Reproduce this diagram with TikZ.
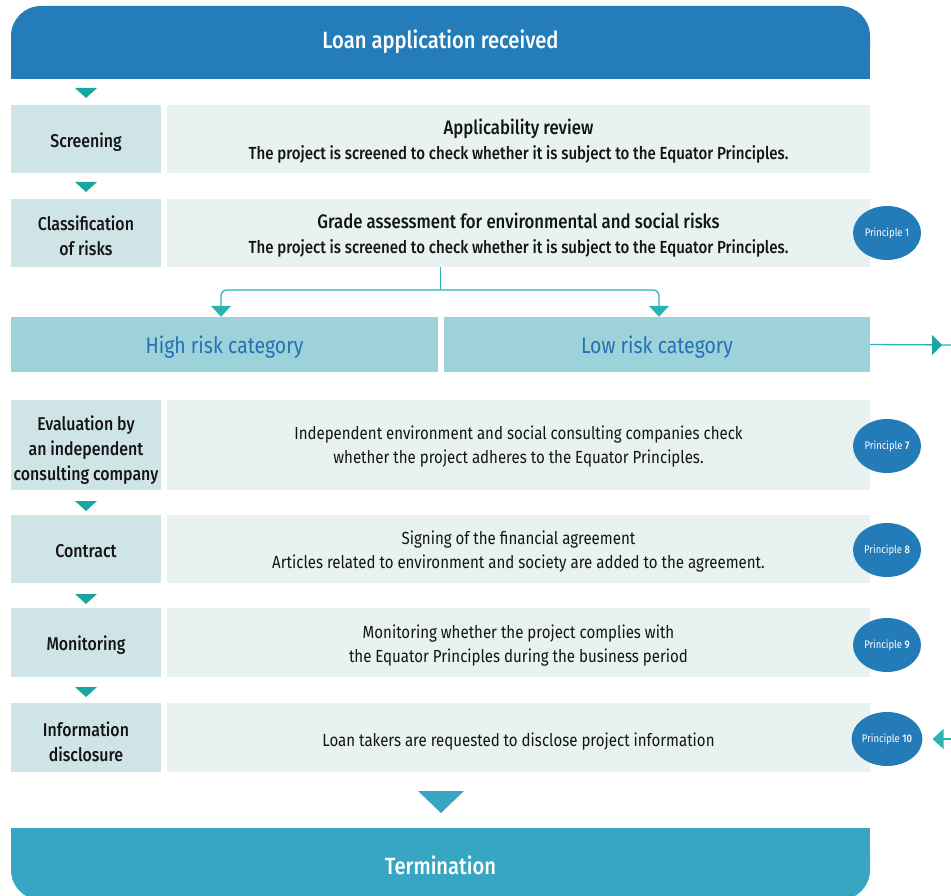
\documentclass[tikz,border=0pt]{standalone}
\usepackage{fontspec}
\setmainfont{Fira Sans}[FakeStretch=0.86, BoldFont={Fira Sans Medium}, BoldFeatures={FakeStretch=0.86}]
\usetikzlibrary{arrows.meta,shapes.geometric}
\definecolor{hdrblue}{RGB}{36,125,185}
\definecolor{tealtri}{RGB}{26,166,160}
\definecolor{connteal}{RGB}{40,180,176}
\definecolor{lboxc}{RGB}{207,228,230}
\definecolor{rboxc}{RGB}{232,242,241}
\definecolor{catc}{RGB}{157,210,218}
\definecolor{cattext}{RGB}{35,112,178}
\definecolor{ellc}{RGB}{35,123,184}
\definecolor{termc}{RGB}{55,166,195}
\definecolor{txt}{RGB}{20,20,20}
\tikzset{
  lbox/.style={fill=lboxc, minimum width=150, minimum height=68, inner sep=0},
  rbox/.style={fill=rboxc, minimum width=703, minimum height=68, inner sep=0},
  ltxt/.style={align=center, text=txt, font=\fontsize{18.5}{25}\selectfont\bfseries, inner sep=0},
  rtxt/.style={align=center, text=txt, font=\fontsize{17.5}{24}\selectfont, inner sep=0},
  catbox/.style={fill=catc, minimum height=55, inner sep=0},
  cattxt/.style={text=cattext, font=\fontsize{22.6}{26}\selectfont, inner sep=0},
  princ/.style={ellipse, fill=ellc, minimum width=68, minimum height=54, inner sep=0, text=white, font=\fontsize{11}{12}\selectfont},
  tri/.style={fill=tealtri},
  conn/.style={draw=connteal, line width=1.3},
  tip/.style={-{Triangle[width=20,length=11]}, }
}
\begin{document}
\begin{tikzpicture}[x=1pt,y=-1pt]
\path[use as bounding box] (0,0) rectangle (951,896);
% header
\fill[hdrblue, rounded corners=30] (11,6) rectangle (870,79);
\fill[hdrblue] (11,40) rectangle (870,79);
\node[text=white, font=\fontsize{23.5}{26}\selectfont\bfseries] (hdr) at (440.5,42) {Loan application received};
% row 1
\node[lbox] (l1) at (86,139) {};
\node[ltxt] (l1t) at ([yshift=-3]l1.center) {Screening};
\node[rbox] (r1) at (518.5,139) {};
\node[rtxt] (r1t) at ([yshift=-2]r1.center) {{\fontsize{19.5}{26}\selectfont\bfseries Applicability review}\\[1pt]\bfseries The project is screened to check whether it is subject to the Equator Principles.};
% row 2
\node[lbox] (l2) at (86,233) {};
\node[ltxt] (l2t) at ([yshift=-3]l2.center) {Classification\\of risks};
\node[rbox] (r2) at (518.5,233) {};
\node[rtxt] (r2t) at ([yshift=-2]r2.center) {{\fontsize{19.5}{26}\selectfont\bfseries Grade assessment for environmental and social risks}\\[1pt]\bfseries The project is screened to check whether it is subject to the Equator Principles.};
\node[princ] (p1) at (887,233) {Principle 1};
% categories
\node[catbox, minimum width=427] (high) at (224.5,344.5) {};
\node[cattxt] (hight) at ([yshift=-3]high.center) {High risk category};
\node[catbox, minimum width=426] (low) at (657,344.5) {};
\node[cattxt] (lowt) at ([yshift=-3]low.center) {Low risk category};
% eval
\node[lbox, minimum height=90] (l3) at (86,445) {};
\node[ltxt] (l3t) at ([yshift=-5]l3.center) {Evaluation by\\an independent\\consulting company};
\node[rbox, minimum height=90] (r3) at (518.5,445) {};
\node[rtxt] (r3t) at ([yshift=-2]r3.center) {Independent environment and social consulting companies check\\whether the project adheres to the Equator Principles.};
\node[princ] (p7) at (887,446) {Principle \textbf{7}};
% contract
\node[lbox] (l4) at (86,549) {};
\node[ltxt] (l4t) at ([yshift=-2]l4.center) {Contract};
\node[rbox] (r4) at (518.5,549) {};
\node[rtxt] (r4t) at ([yshift=-3]r4.center) {Signing of the financial agreement\\Articles related to environment and society are added to the agreement.};
\node[princ] (p8) at (887,550) {Principle \textbf{8}};
% monitoring
\node[lbox, minimum height=69] (l5) at (86,642.5) {};
\node[ltxt] (l5t) at ([yshift=-3]l5.center) {Monitoring};
\node[rbox, minimum height=69] (r5) at (518.5,642.5) {};
\node[rtxt] (r5t) at ([yshift=-3]r5.center) {Monitoring whether the project complies with\\the Equator Principles during the business period};
\node[princ] (p9) at (887,645) {Principle \textbf{9}};
% info
\node[lbox, minimum height=69] (l6) at (86,737.5) {};
\node[ltxt] (l6t) at ([yshift=-4]l6.center) {Information\\disclosure};
\node[rbox, minimum height=69] (r6) at (518.5,737.5) {};
\node[rtxt] (r6t) at ([yshift=-4]r6.center) {Loan takers are requested to disclose project information};
\node[princ] (p10) at (887,739) {Principle \textbf{10}};
% termination
\fill[termc, rounded corners=30] (11,828) rectangle (870,900);
\fill[termc] (11,828) rectangle (870,860);
\node[text=white, font=\fontsize{23.5}{26}\selectfont\bfseries] (term) at (440.5,865) {Termination};
% small triangles
\foreach \y in {88,182,501,594,687}{
  \fill[tri] (75,\y) -- (97,\y) -- (86,\y+10) -- cycle;
}
\fill[termc] (418,791) -- (464,791) -- (441,813) -- cycle;
% connectors
\coordinate (j) at (440.5,290);
\draw[conn] (j |- r2.south) -- (j);
\draw[conn, rounded corners=6, tip] (j) -| ([xshift=-3.5]high.north);
\draw[conn, rounded corners=6, tip] (j) -| ([xshift=2]low.north);
\coordinate (outR) at (951,345);
\draw[conn] (low.east) -- (outR);
\fill[tealtri] (932,335) -- (942,345) -- (932,355) -- cycle;
\coordinate (inR) at (951,739);
\draw[conn, tip, shorten >=10] (inR) -- (p10.east);
\end{tikzpicture}
\end{document}
